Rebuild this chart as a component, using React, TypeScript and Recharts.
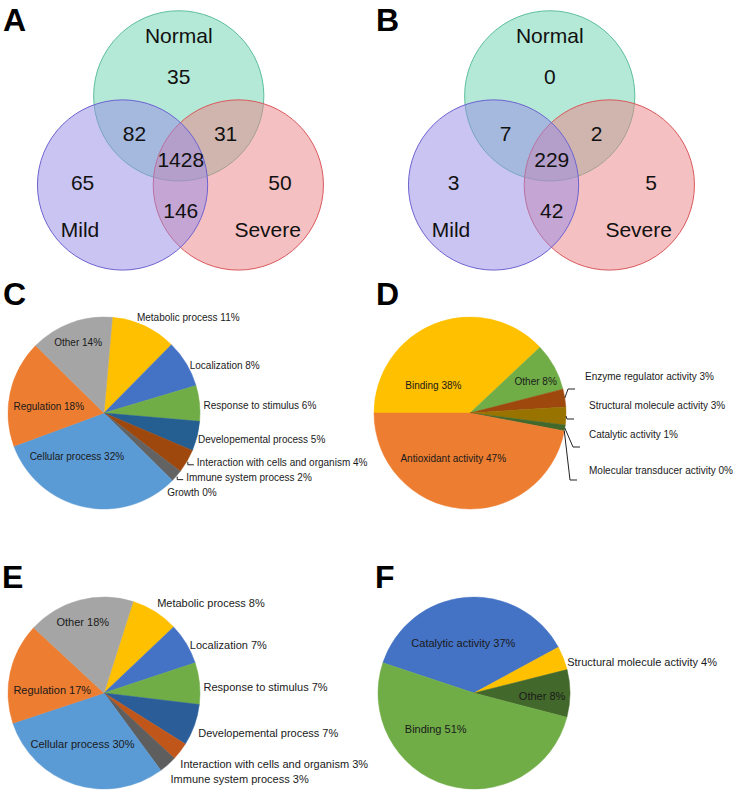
import React from 'react';
import { PieChart, Pie, Cell, ScatterChart, Scatter, XAxis, YAxis } from 'recharts';

const FONT = '"Liberation Sans", Arial, Helvetica, sans-serif';

// ---------- Venn data (A, B) ----------
const vennSetNames = ['Normal', 'Severe', 'Mild'];
const vennRegions = ['Normal only', 'Normal+Mild', 'Normal+Severe', 'All three', 'Mild only', 'Severe only', 'Mild+Severe'];
const vennCountsA = [35, 82, 31, 1428, 65, 50, 146];
const vennCountsB = [0, 7, 2, 229, 3, 5, 42];

// Venn layout, in units of circle radius
const vennCircleXY = [[0, 0], [0.7, 1.05], [-0.66, 1.05]];
const vennSetLabelXY = [[0, -0.71], [1.045, 1.58], [-1.16, 1.58]];
const vennRegionXY = [[0, -0.23], [-0.52, 0.44], [0.55, 0.44], [0.024, 0.75], [-1.13, 1.025], [1.19, 1.025], [0.024, 1.345]];

const vennFill: Record<string, string> = {
  Normal: 'rgba(106,209,176,0.5)',
  Severe: 'rgba(236,129,133,0.5)',
  Mild: 'rgba(150,138,230,0.5)',
};
const vennStroke: Record<string, string> = {
  Normal: '#5dbf9c',
  Severe: '#d9595c',
  Mild: '#6c63d0',
};

// ---------- Pie data (C-F) ----------
const namesC = ['Metabolic process', 'Localization', 'Response to stimulus', 'Developemental process',
  'Interaction with cells and organism', 'Immune system process', 'Growth', 'Cellular process', 'Regulation', 'Other'];
const valuesC = [11, 8, 6, 5, 4, 2, 0, 32, 18, 14];

const namesD = ['Binding', 'Other', 'Enzyme regulator activity', 'Structural molecule activity',
  'Catalytic activity', 'Molecular transducer activity', 'Antioxidant activity'];
const valuesD = [38, 8, 3, 3, 1, 0, 47];

const namesE = ['Metabolic process', 'Localization', 'Response to stimulus', 'Developemental process',
  'Interaction with cells and organism', 'Immune system process', 'Cellular process', 'Regulation', 'Other'];
const valuesE = [8, 7, 7, 7, 3, 3, 30, 17, 18];

const namesF = ['Catalytic activity', 'Structural molecule activity', 'Other', 'Binding'];
const valuesF = [37, 4, 8, 51];

const colorsC = ['#FFC000', '#4472C4', '#70AD47', '#255E91', '#9E480E', '#636363', '#997300', '#5B9BD5', '#ED7D31', '#A5A5A5'];
const colorsD = ['#FFC000', '#70AD47', '#9E480E', '#997300', '#43682B', '#264478', '#ED7D31'];
const colorsE = ['#FFC000', '#4472C4', '#70AD47', '#2B5E99', '#C0561A', '#5E5E5E', '#5B9BD5', '#ED7D31', '#A5A5A5'];
const colorsF = ['#4472C4', '#FFC000', '#43682B', '#70AD47'];

type LabelCfg = {
  mode: 'in' | 'out';
  f?: number; da?: number; dx?: number; dy?: number;
  bracket?: boolean;
  elbow?: [number, number];
  t?: [number, number];
};

const labelsC: LabelCfg[] = [
  { mode: 'out', dx: -9, dy: -5 },
  { mode: 'out', dy: 4 },
  { mode: 'out', dy: 3 },
  { mode: 'out', dx: -3, dy: 2 },
  { mode: 'out', bracket: true },
  { mode: 'out', bracket: true },
  { mode: 'out', dx: -8, dy: 9 },
  { mode: 'in', f: 0.53, da: 20 },
  { mode: 'in', f: 0.58, da: -5 },
  { mode: 'in', f: 0.78 },
];
const labelsD: LabelCfg[] = [
  { mode: 'in', f: 0.48, da: -31 },
  { mode: 'in', f: 0.76, da: 3 },
  { mode: 'out', elbow: [98, -24], t: [115, -37] },
  { mode: 'out', elbow: [97, 6], t: [119, -8] },
  { mode: 'out', elbow: [103, 34], t: [119, 21] },
  { mode: 'out', elbow: [100, 67], t: [119, 57] },
  { mode: 'in', f: 0.5, da: 15 },
];
const labelsE: LabelCfg[] = [
  { mode: 'out', dy: -5 },
  { mode: 'out', dy: 3 },
  { mode: 'out', dy: 4 },
  { mode: 'out', dy: 7 },
  { mode: 'out', dx: -3, dy: 10 },
  { mode: 'out', dy: 11 },
  { mode: 'in', f: 0.58, da: 5 },
  { mode: 'in', f: 0.54, da: -9 },
  { mode: 'in', f: 0.77, da: -2 },
];
const labelsF: LabelCfg[] = [
  { mode: 'in', f: 0.53, da: -7 },
  { mode: 'out', dx: 0, dy: 5 },
  { mode: 'in', f: 0.71, da: 2 },
  { mode: 'in', f: 0.55, da: 30 },
];

const RAD = Math.PI / 180;

function makeLabel(cfgs: LabelCfg[], fontSize: number) {
  return (p: any) => {
    const c = cfgs[p.index];
    if (!c) return null;
    const d = p.payload ?? p;
    const text = `${d.name} ${d.value}%`;
    const a = (p.midAngle - (c.da || 0)) * RAD;
    const cos = Math.cos(a);
    const sin = Math.sin(a);
    const R = p.outerRadius;
    const common = { fontSize, fontFamily: FONT, fill: '#1a1a1a', dy: '0.36em' };
    if (c.mode === 'in') {
      const f = c.f ?? 0.6;
      return (
        <text x={p.cx + R * f * cos} y={p.cy - R * f * sin} textAnchor="middle" {...common}>{text}</text>
      );
    }
    if (c.elbow && c.t) {
      const ex = p.cx + R * cos;
      const ey = p.cy - R * sin;
      const bx = p.cx + c.elbow[0];
      const by = p.cy + c.elbow[1];
      return (
        <g>
          <path d={`M${ex},${ey} L${bx},${by} H${bx + 7}`} stroke="#222" strokeWidth={1} fill="none" />
          <text x={p.cx + c.t[0]} y={p.cy + c.t[1]} textAnchor="start" {...common}>{text}</text>
        </g>
      );
    }
    if (c.bracket) {
      const ex = p.cx + (R + 1) * cos;
      const ey = p.cy - (R + 1) * sin;
      return (
        <g>
          <path d={`M${ex},${ey} V${ey + 3} H${ex + 6}`} stroke="#222" strokeWidth={1} fill="none" />
          <text x={ex + 9} y={ey + 1} textAnchor="start" {...common}>{text}</text>
        </g>
      );
    }
    const x = p.cx + (R + 4) * cos + (c.dx || 0);
    const y = p.cy - (R + 4) * sin + (c.dy || 0);
    return <text x={x} y={y} textAnchor="start" {...common}>{text}</text>;
  };
}

const VENN_W = 366;
const VENN_H = 280;
const X_DOM: [number, number] = [-2.1, 2.2];
const Y_DOM: [number, number] = [-1.13, 2.17];
const VENN_R = VENN_W / (X_DOM[1] - X_DOM[0]);

function Venn({ counts }: { counts: number[] }) {
  const circles = vennSetNames.map((name, i) => ({ name, x: vennCircleXY[i][0], y: vennCircleXY[i][1] }));
  const setLabels = vennSetNames.map((name, i) => ({ label: name, x: vennSetLabelXY[i][0], y: vennSetLabelXY[i][1] }));
  const regionLabels = vennRegions.map((r, i) => ({ region: r, label: String(counts[i]), x: vennRegionXY[i][0], y: vennRegionXY[i][1] }));
  const textShape = (p: any) => (
    <text x={p.cx} y={p.cy} dy="0.36em" textAnchor="middle" fontSize={21} fontFamily={FONT} fill="#111">
      {p.payload.label}
    </text>
  );
  return (
    <ScatterChart width={VENN_W} height={VENN_H} margin={{ top: 0, right: 0, bottom: 0, left: 0 }}>
      <XAxis type="number" dataKey="x" domain={X_DOM} hide allowDataOverflow />
      <YAxis type="number" dataKey="y" domain={Y_DOM} reversed hide allowDataOverflow />
      <Scatter
        data={circles}
        isAnimationActive={false}
        shape={(p: any) => (
          <circle cx={p.cx} cy={p.cy} r={VENN_R} fill={vennFill[p.payload.name]}
            stroke={vennStroke[p.payload.name]} strokeWidth={1} />
        )}
      />
      <Scatter data={setLabels} isAnimationActive={false} shape={textShape} />
      <Scatter data={regionLabels} isAnimationActive={false} shape={textShape} />
    </ScatterChart>
  );
}

function GoPie({ names, values, colors, labels, start, fontSize, cx }: {
  names: string[]; values: number[]; colors: string[]; labels: LabelCfg[];
  start: number; fontSize: number; cx: number;
}) {
  const data = names.map((name, i) => ({ name, value: values[i] }));
  return (
    <PieChart width={400} height={240} margin={{ top: 0, right: 0, bottom: 0, left: 0 }}>
      <Pie
        data={data}
        dataKey="value"
        nameKey="name"
        cx={cx}
        cy={133}
        outerRadius={96}
        startAngle={start}
        endAngle={start - 360}
        isAnimationActive={false}
        labelLine={false}
        label={makeLabel(labels, fontSize)}
      >
        {data.map((d, i) => (
          <Cell key={d.name} fill={colors[i]} stroke={colors[i]} strokeWidth={0.5} />
        ))}
      </Pie>
    </PieChart>
  );
}

const panelLetters = [
  { t: 'A', x: 3, y: 31 },
  { t: 'B', x: 376, y: 31 },
  { t: 'C', x: 3, y: 305 },
  { t: 'D', x: 376, y: 305 },
  { t: 'E', x: 2, y: 588 },
  { t: 'F', x: 375, y: 588 },
];

export default function App() {
  const abs = (left: number, top: number): React.CSSProperties => ({ position: 'absolute', left, top });
  return (
    <div style={{ position: 'absolute', left: 0, top: 0, width: 733, height: 800, overflow: 'hidden', background: '#fff', fontFamily: FONT }}>
      <div style={abs(0, 0)}><Venn counts={vennCountsA} /></div>
      <div style={abs(5, 0)}><div style={{ position: 'absolute', left: 366, top: 0 }}><Venn counts={vennCountsB} /></div></div>
      <div style={abs(0, 280)}>
        <GoPie names={namesC} values={valuesC} colors={colorsC} labels={labelsC} start={85} fontSize={10} cx={104} />
      </div>
      <div style={abs(366, 280)}>
        <GoPie names={namesD} values={valuesD} colors={colorsD} labels={labelsD} start={180} fontSize={10} cx={104} />
      </div>
      <div style={abs(0, 560)}>
        <GoPie names={namesE} values={valuesE} colors={colorsE} labels={labelsE} start={72.3} fontSize={11} cx={104} />
      </div>
      <div style={abs(366, 560)}>
        <GoPie names={namesF} values={valuesF} colors={colorsF} labels={labelsF} start={161.7} fontSize={11} cx={108} />
      </div>
      <svg width={733} height={800} style={{ position: 'absolute', left: 0, top: 0, pointerEvents: 'none' }}>
        {panelLetters.map((l) => (
          <text key={l.t} x={l.x} y={l.y} fontSize={32} fontWeight="bold" fontFamily={FONT} fill="#000">{l.t}</text>
        ))}
      </svg>
    </div>
  );
}
